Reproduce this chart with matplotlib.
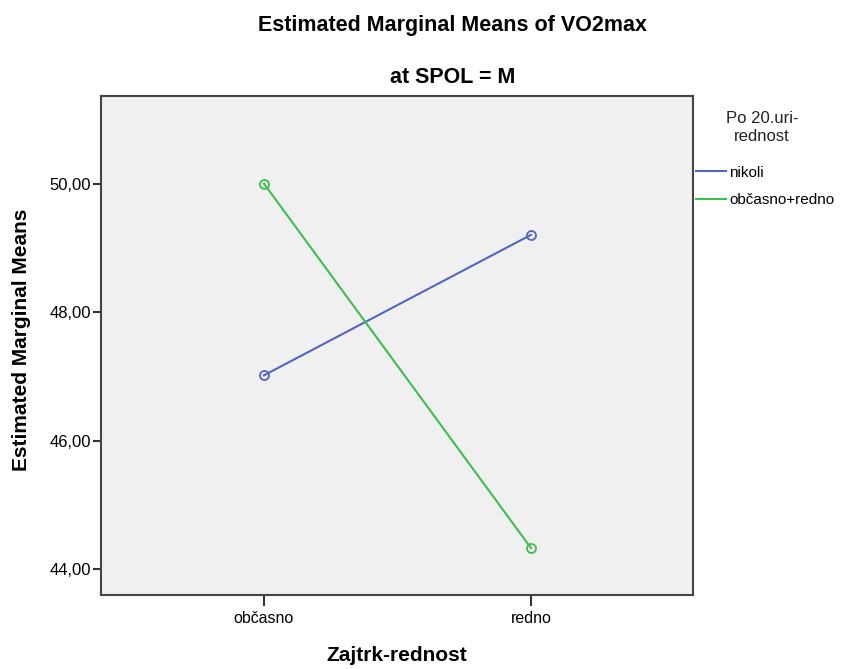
import matplotlib.pyplot as plt
import matplotlib.ticker as mticker

plt.rcParams['font.family'] = ['Liberation Sans', 'DejaVu Sans']

# podatki
categories = ["občasno", "redno"]
groups = ["nikoli", "občasno+redno"]
nikoli = [47.02, 49.21]
obcasno_redno = [50.01, 44.33]
colors = ["#4f66c4", "#3dbf4b"]

fig = plt.figure(figsize=(8.42, 6.69), dpi=100)
ax = fig.add_axes([0.12, 0.111, 0.703, 0.746])
ax.set_facecolor("#f0f0f0")

x = list(range(len(categories)))
for vals, name, c in zip([nikoli, obcasno_redno], groups, colors):
    ax.plot(x, vals, color=c, lw=1.5, marker="o", ms=6.5,
            markerfacecolor="none", markeredgewidth=1.3, label=name)

ax.set_xlim(-0.61, 1.607)
ax.set_ylim(43.6, 51.38)
ax.set_xticks(x)
ax.set_xticklabels(categories, fontsize=11.5)
ax.set_yticks([44, 46, 48, 50])
ax.yaxis.set_major_formatter(mticker.FuncFormatter(lambda v, p: f"{v:.2f}".replace(".", ",")))
ax.tick_params(axis="y", labelsize=12, length=6, width=1.5, color="#333333", pad=1)
ax.tick_params(axis="x", length=8, width=1.5, color="#333333", pad=4)
for s in ax.spines.values():
    s.set_color("#444444")
    s.set_linewidth(1.5)

ax.set_xlabel("Zajtrk-rednost", fontsize=15, fontweight="bold", va="center")
ax.xaxis.set_label_coords(0.5, -0.121)
ax.set_ylabel("Estimated Marginal Means", fontsize=15, fontweight="bold", va="center")
ax.yaxis.set_label_coords(-0.135, 0.51)

fig.text(0.538, 0.962, "Estimated Marginal Means of VO2max", ha="center", va="center",
         fontsize=15.5, fontweight="bold")
fig.text(0.538, 0.884, "at SPOL = M", ha="center", va="center",
         fontsize=15.5, fontweight="bold")

fig.text(0.905, 0.81, "Po 20.uri-\nrednost", ha="center", va="center", fontsize=12,
         linespacing=1.25, color="#222222")
ax.legend(loc="upper left", bbox_to_anchor=(1.005, 0.86), frameon=False,
          fontsize=11, handlelength=2.0, handletextpad=0.2, borderaxespad=0,
          borderpad=0, labelspacing=0.9, markerscale=0)

fig.savefig("out.png", dpi=100)
